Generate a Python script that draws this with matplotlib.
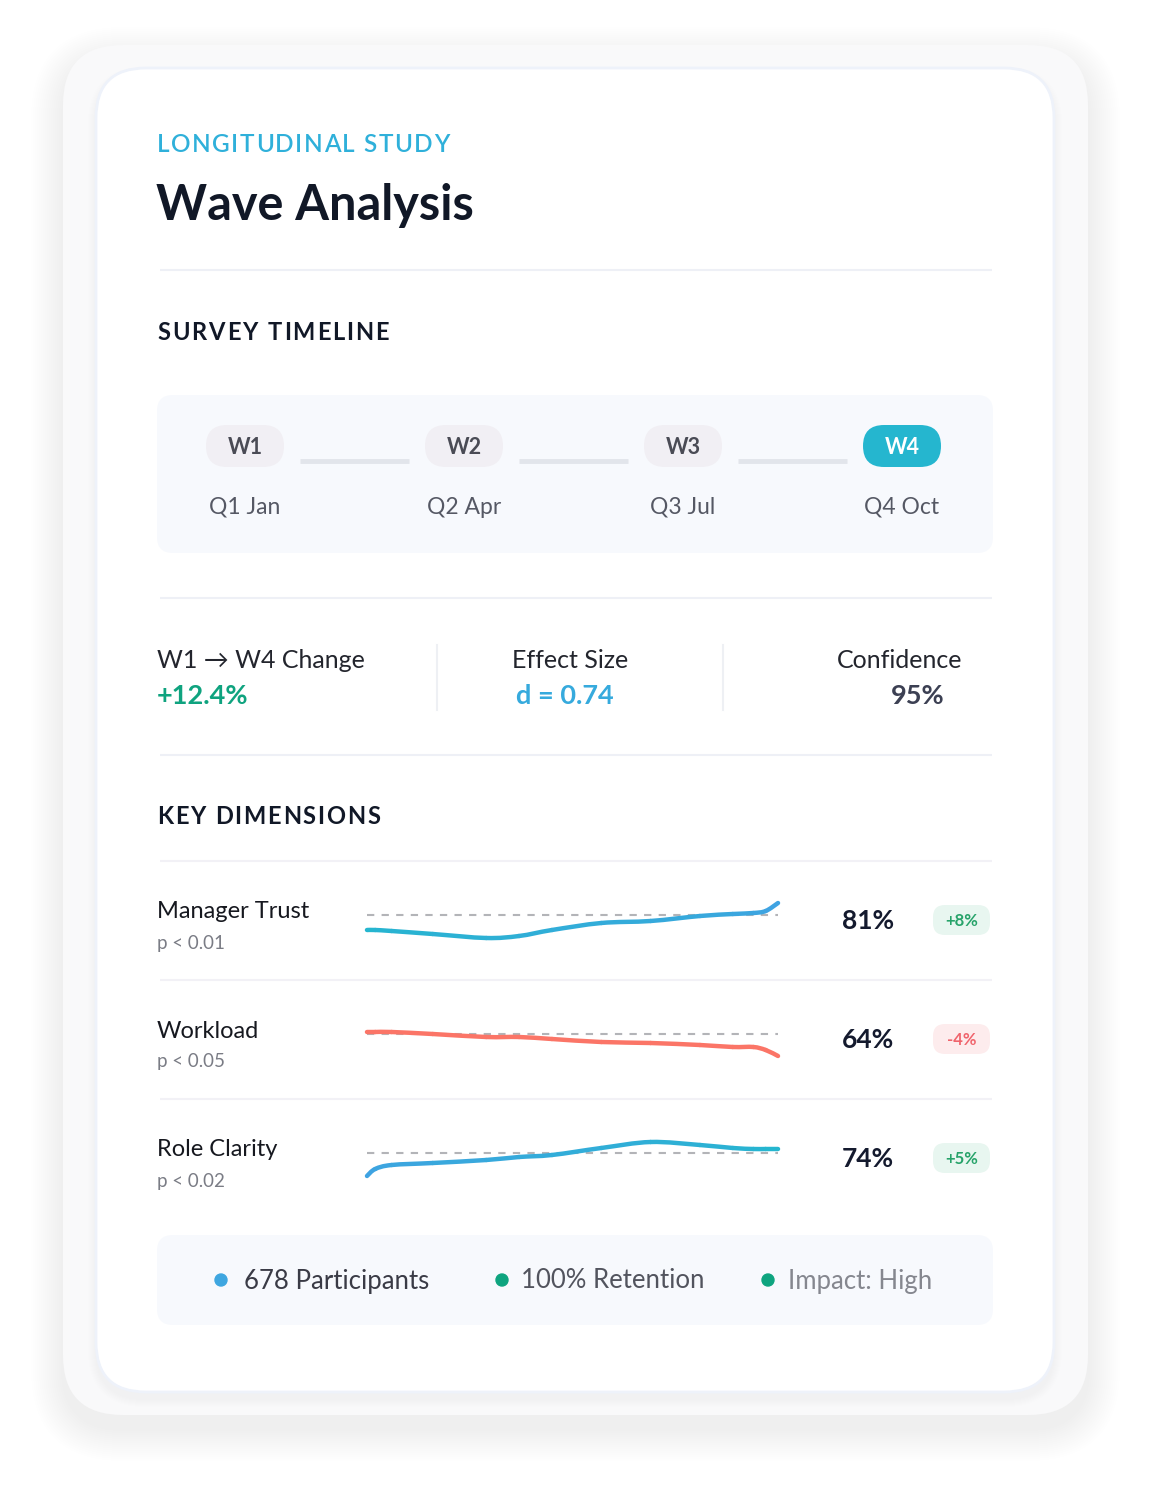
import matplotlib
matplotlib.use("Agg")
import matplotlib.pyplot as plt
from matplotlib.patches import FancyBboxPatch, Circle, PathPatch
from matplotlib.path import Path
from matplotlib.font_manager import FontProperties
from matplotlib.colors import to_rgb
import numpy as np

plt.rcParams['font.family'] = ['Lato', 'DejaVu Sans']

W, H = 1152, 1500

# ---- data ----
waves = ["W1", "W2", "W3", "W4"]
wave_dates = ["Q1 Jan", "Q2 Apr", "Q3 Jul", "Q4 Oct"]
active_wave = 3

stat_labels = ["W1 \u2192 W4 Change", "Effect Size", "Confidence"]
stat_values = ["+12.4%", "d = 0.74", "95%"]

dims = ["Manager Trust", "Workload", "Role Clarity"]
pvals = ["p < 0.01", "p < 0.05", "p < 0.02"]
scores = ["81%", "64%", "74%"]
deltas = ["+8%", "-4%", "+5%"]

# sparkline readings (deviation from W1 reference line), sampled along the study period
t = [0, 2, 6, 16, 29, 37, 45, 57, 69, 81, 89, 94, 97, 100]
trust = [-15, -15, -16, -19, -23, -21, -15, -8, -6, -1, 1, 2, 4, 12]
workload = [2, 2, 2, 0, -3, -3, -5, -8, -9, -11, -13, -13, -16, -22]
clarity = [-23, -16, -12, -10, -7, -4, -2, 5, 11, 8, 5, 4, 4, 4]
series = [trust, workload, clarity]

footer = ["678 Participants", "100% Retention", "Impact: High"]
footer_dot = ["#3ea6e0", "#0ea47f", "#0ea47f"]
footer_col = ["#3a3b46", "#52545e", "#85878f"]

DARK = "#111827"
TEAL = "#25b6cf"
BLUE = "#3fa3e2"

fig = plt.figure(figsize=(W / 100, H / 100), dpi=100)
ax = fig.add_axes([0, 0, 1, 1])
ax.set_xlim(0, W)
ax.set_ylim(H, 0)
ax.axis("off")
renderer = fig.canvas.get_renderer()


def rbox(x0, y0, x1, y1, r, fc, ec="none", lw=0, alpha=1, z=1):
    p = FancyBboxPatch((x0, y0), x1 - x0, y1 - y0,
                       boxstyle="round,pad=0,rounding_size=%g" % r,
                       fc=fc, ec=ec, lw=lw, alpha=alpha, zorder=z)
    ax.add_patch(p)
    return p


def spaced(x, y, s, width, size, color, weight="normal", z=5):
    # draw s with letter spacing so that it spans `width` px
    prop = FontProperties(family=['Lato', 'DejaVu Sans'], size=size, weight=weight)
    tw = lambda q: renderer.get_text_width_height_descent(q, prop, ismath=False)[0]
    gap = (width - tw(s)) / (len(s) - 1)
    for k, ch in enumerate(s):
        ax.text(x + tw(s[:k]) + gap * k, y, ch, fontproperties=prop, color=color,
                va="center", ha="left", zorder=z)


# outer card + soft shadow
for i in range(16):
    g = 2 * (16 - i)
    rbox(63 - g, 45 - g + 14, 1088 + g, 1415 + g + 14, 60 + g, "#9aa0ad", alpha=0.0025, z=0)
rbox(63, 45, 1088, 1415, 60, "#f9f9fa", z=1)

# inner card + shadow
for i in range(8):
    g = 8 - i
    rbox(96 - g, 68 - g + 7, 1054 + g, 1392 + g + 7, 50 + g, "#8a90a0", alpha=0.008, z=2)
rbox(96, 68, 1054, 1392, 50, "#ffffff", ec="#eef2fa", lw=2, z=3)

Z = 5
spaced(157, 145, "LONGITUDINAL STUDY", 292, 17.5, "#2fb0da", weight="semibold")
ax.text(156, 205, "Wave Analysis", fontsize=35, color=DARK,
        fontweight="bold", va="center", ha="left", zorder=Z)


def hline(y, x0=160, x1=992, c="#eef0f6", lw=1.5):
    ax.plot([x0, x1], [y, y], color=c, lw=lw, zorder=Z, solid_capstyle="butt")


hline(270)
spaced(157, 333, "SURVEY TIMELINE", 232, 17, DARK, weight="bold")

# timeline
rbox(157, 395, 993, 553, 16, "#f7f9fd", z=4)
wx = np.linspace(245, 902, len(waves))
for i in range(len(waves) - 1):
    ax.plot([wx[i] + 55, wx[i + 1] - 55], [461, 461], color="#e2e5eb",
            lw=3.5, solid_capstyle="butt", zorder=Z)
for i, (w, d) in enumerate(zip(waves, wave_dates)):
    on = i == active_wave
    rbox(wx[i] - 39, 425, wx[i] + 39, 467, 21, TEAL if on else "#f1eff4", z=Z)
    ax.text(wx[i], 447, w, fontsize=15.5, fontweight="bold",
            color="white" if on else "#4a4b55", ha="center", va="center", zorder=Z + 1)
    ax.text(wx[i], 507, d, fontsize=16.5, color="#555864",
            ha="center", va="center", zorder=Z + 1)

hline(598)

# stats row
ax.text(157, 661, stat_labels[0], fontsize=18, color="#23252d", ha="left", va="center", zorder=Z)
ax.text(157, 696, stat_values[0], fontsize=19.5, color="#0fa37f", fontweight="bold",
        ha="left", va="center", zorder=Z)
ax.text(570, 661, stat_labels[1], fontsize=18, color="#23252d", ha="center", va="center", zorder=Z)
ax.text(565, 696, stat_values[1], fontsize=19.5, color="#36aadd", fontweight="bold",
        ha="center", va="center", zorder=Z)
ax.text(962, 661, stat_labels[2], fontsize=18, color="#23252d", ha="right", va="center", zorder=Z)
ax.text(945, 696, stat_values[2], fontsize=19.5, color="#3c4053", fontweight="bold",
        ha="right", va="center", zorder=Z)
for x in (437, 723):
    ax.plot([x, x], [645, 710], color="#eef0f4", lw=1.5, zorder=Z)

hline(755)
spaced(157, 817, "KEY DIMENSIONS", 223, 17, DARK, weight="bold")

# dimension rows
row_y = [920, 1039, 1158]
base_y = [915, 1034, 1153]
for y in (861, 980, 1099):
    hline(y, c="#f2f1f6")


def grad(c0, c1, n):
    a, b = np.array(to_rgb(c0)), np.array(to_rgb(c1))
    return [tuple(a + (b - a) * k / max(n - 1, 1)) for k in range(n)]


line_cols = [(TEAL, BLUE), ("#fb7567", "#fb7567"), (BLUE, TEAL)]
for i in range(len(dims)):
    yc = row_y[i]
    ax.text(157, yc - 8, dims[i], fontsize=17, color="#16181f", ha="left", va="center", zorder=Z)
    ax.text(157, yc + 23, pvals[i], fontsize=13.5, color="#7a7c85", ha="left", va="center", zorder=Z)
    ax.text(842, yc + 1, scores[i], fontsize=19, color="#141a2e", fontweight="bold",
            ha="left", va="center", zorder=Z)
    neg = deltas[i].startswith("-")
    rbox(933, yc - 15, 990, yc + 15, 12, "#fdeced" if neg else "#e8f6f0", z=Z)
    ax.text(961.5, yc + 1, deltas[i], fontsize=12, fontweight="bold",
            color="#f0646c" if neg else "#27a36a", ha="center", va="center", zorder=Z + 1)

    # sparkline axes: 1 data unit = 1 px vertically
    yb = base_y[i]
    sax = fig.add_axes([360 / W, 1 - (yb + 45) / H, 425 / W, 90 / H])
    sax.set_xlim(-1.7, 101.7)
    sax.set_ylim(-45, 45)
    sax.axis("off")
    sax.patch.set_alpha(0)
    sax.plot([0, 100], [0, 0], color="#b3b4b8", lw=1.5, dashes=(3.5, 3.5), zorder=1)
    # smooth curve through the readings (Catmull-Rom as cubic Bezier segments)
    p = np.column_stack([t, series[i]]).astype(float)
    n = len(p)
    cols = grad(*line_cols[i], n - 1)
    for k in range(n - 1):
        p0 = p[max(k - 1, 0)]
        p1, p2 = p[k], p[k + 1]
        p3 = p[min(k + 2, n - 1)]
        c1 = p1 + (p2 - p0) / 6
        c2 = p2 - (p3 - p1) / 6
        path = Path([p1, c1, c2, p2], [Path.MOVETO, Path.CURVE4, Path.CURVE4, Path.CURVE4])
        sax.add_patch(PathPatch(path, fc="none", ec=cols[k], lw=3.2,
                                capstyle="round", joinstyle="round", zorder=2))

# footer
rbox(157, 1235, 993, 1325, 16, "#f7f9fd", z=4)
fx = [221, 502, 768]
fgap = [23, 19, 20]
for i in range(len(footer)):
    ax.add_patch(Circle((fx[i], 1280), 6, color=footer_dot[i], zorder=Z))
    ax.text(fx[i] + fgap[i], 1281, footer[i], fontsize=18.5, color=footer_col[i],
            ha="left", va="center", zorder=Z)

fig.savefig("out.png", dpi=100, facecolor="white")
